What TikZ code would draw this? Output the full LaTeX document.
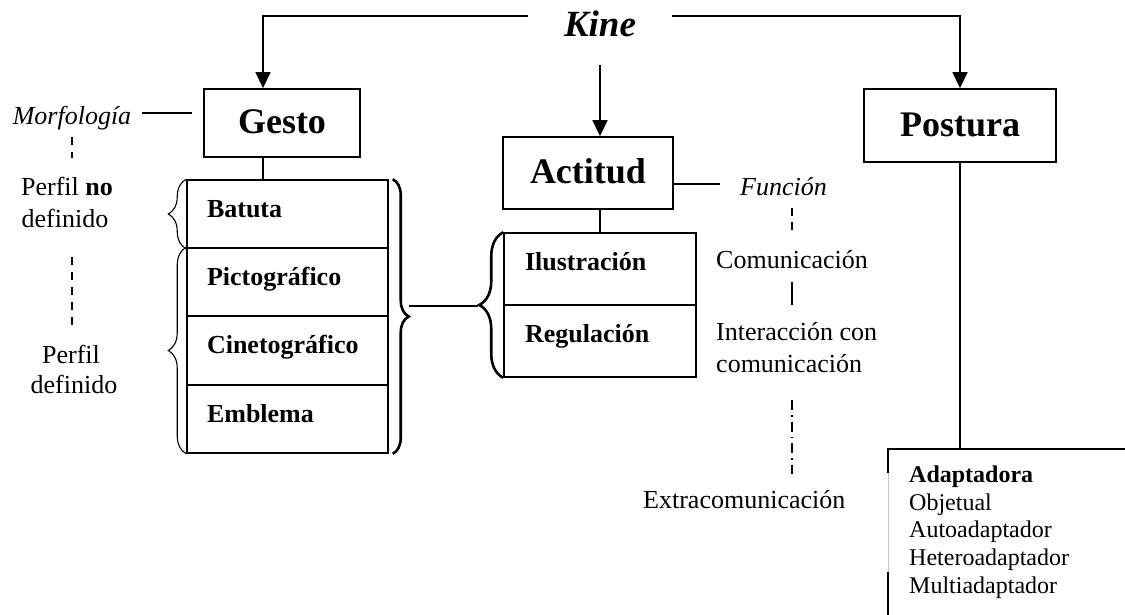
\documentclass[tikz,border=0pt]{standalone}
\usepackage{fontspec}
\setmainfont{Liberation Serif}
\usetikzlibrary{arrows.meta,decorations.pathreplacing,calc}
\begin{document}
\begin{tikzpicture}[x=1pt,y=-1pt,
  every node/.style={font=\fontsize{26}{30}\selectfont},
  titlebox/.style={draw, line width=1.8pt, font=\fontsize{36}{40}\selectfont\bfseries,
    text height=24pt, text depth=2pt, inner sep=0pt},
  rowbox/.style={draw, line width=1.5pt, font=\fontsize{26}{30}\selectfont\bfseries,
    inner ysep=0pt, align=left},
  growbox/.style={rowbox, inner xsep=20pt, text width=161pt, minimum height=68pt, text height=12pt, text depth=6pt},
  arowbox/.style={rowbox, inner xsep=21pt, text width=150pt, minimum height=72pt, text height=8pt, text depth=6pt},
  lbl/.style={inner sep=0pt, anchor=base},
  lblw/.style={inner sep=0pt, anchor=base west},
  adl/.style={inner sep=0pt, anchor=base west, font=\fontsize{24}{28}\selectfont},
  conn/.style={line width=1.5pt},
  arr/.style={conn, -{Triangle[length=16pt,width=15pt]}},
  dsh/.style={line width=1.3pt, dash pattern=on 8pt off 7pt},
  dshdot/.style={line width=1.3pt, dash pattern=on 10pt off 5pt on 1.5pt off 5pt},
  thinbrace/.style={line width=1.1pt, decorate, decoration={brace, amplitude=18pt}},
  thickbrace/.style={line width=2.6pt, decorate, decoration={brace, amplitude=#1}},
]
\useasboundingbox (0,0) rectangle (1125,615);

% top level
\node[font=\fontsize{37}{40}\selectfont\bfseries\itshape, text height=42pt, text depth=0pt,
      inner xsep=36pt, inner ysep=28pt] (kine) at (600,16) {Kine};
\node[titlebox, minimum width=156pt, minimum height=68pt] (gesto) at (282,123) {Gesto\hspace{22pt}};
\node[titlebox, minimum width=170pt, minimum height=72pt] (actitud) at (588,173) {Actitud};
\node[titlebox, minimum width=192pt, minimum height=73pt] (postura) at (960,125.5) {Postura};

\draw[arr] (kine.west) -| ([xshift=-19pt]gesto.north);
\draw[arr] (kine.east) -| (postura.north);
\draw[arr] (kine.south) -- (kine.south |- actitud.north);

% Gesto table
\node[growbox] (batuta) at (287.5,214) {Batuta};
\node[growbox] (picto) at (287.5,282) {Pictográfico};
\node[growbox] (cineto) at (287.5,350.5) {Cinetográfico};
\node[growbox] (emblema) at (287.5,419) {Emblema};
\draw[conn] ([xshift=-19pt]gesto.south) -- ([xshift=-19pt]gesto.south |- batuta.north);

\draw[thinbrace] (batuta.south west) -- (batuta.north west);
\draw[thinbrace] (emblema.south west) -- (picto.north west);
\draw[thickbrace=16pt] ([xshift=4pt]batuta.north east) -- ([xshift=4pt]emblema.south east);

% Actitud table
\node[arowbox] (ilus) at (600,269) {Ilustración};
\node[arowbox] (regul) at (600,341) {Regulación};
\draw[conn] (actitud.south -| ilus.north) -- (ilus.north);
\draw[thickbrace=24pt] (regul.south west) -- (ilus.north west);
\coordinate (atip) at ($(ilus.south west)+(-25,0)$);
\coordinate (gtip) at ($(picto.south east)+(20,0)$);
\draw[conn] (gtip |- atip) -- (atip);

% Morfologia side
\node[font=\fontsize{26}{30}\selectfont\itshape, text height=24pt, text depth=0pt,
      inner xsep=11pt, inner ysep=0pt] (morf) at (72,113) {Morfología};
\draw[conn, shorten >=11pt] (morf.east) -- (morf.east -| gesto.west);
\node[lbl] (pn1) at (67,195) {Perfil \textbf{no}};
\node[lbl] (pn2) at (65,227) {definido};
\node[lbl] (pd1) at (71,363) {Perfil};
\node[lbl] (pd2) at (74,393) {definido};
\coordinate (m1) at (72,137); \coordinate (m2) at (72,158);
\coordinate (m3) at (72,257); \coordinate (m4) at (72,331);
\draw[dsh] (m1) -- (m2);
\draw[dsh] (m3) -- (m4);

% Funcion side
\node[font=\fontsize{26}{30}\selectfont\itshape, text height=24pt, text depth=0pt,
      inner xsep=20pt, inner ysep=0pt] (funcion) at (783.5,184) {Función};
\draw[conn] (actitud.east |- funcion.west) -- (funcion.west);
\node[lblw] (com) at (716,268) {Comunicación};
\node[lblw] (inter1) at (716,340) {Interacción con};
\node[lblw] (inter2) at (716,372) {comunicación};
\node[lblw] (extra) at (643,508) {Extracomunicación};
\coordinate (f1) at (792,208); \coordinate (f2) at (792,231);
\coordinate (f3) at (792,282); \coordinate (f4) at (792,305);
\coordinate (f5) at (792,400); \coordinate (f6) at (792,474);
\draw[dsh, dash pattern=on 8pt off 6pt] (f1) -- (f2);
\draw[conn] (f3) -- (f4);
\draw[dshdot] (f5) -- (f6);

% Postura side
\coordinate (adtop) at (960,449);
\coordinate (adL) at (888,449);
\coordinate (adR) at (1125,449);
\draw[conn] (postura.south) -- (adtop);
\draw[conn] (888,473) -- (adL) -- (adR);
\draw[gray!45, line width=0.8pt] (888,473) -- (888,572);
\draw[conn] (888,572) -- (888,615);
\node[adl] (ad0) at (909,482) {\textbf{Adaptadora}};
\node[adl] (ad1) at (909,510) {Objetual};
\node[adl] (ad2) at (909,537) {Autoadaptador};
\node[adl] (ad3) at (909,565) {Heteroadaptador};
\node[adl] (ad4) at (909,593) {Multiadaptador};
\end{tikzpicture}
\end{document}
